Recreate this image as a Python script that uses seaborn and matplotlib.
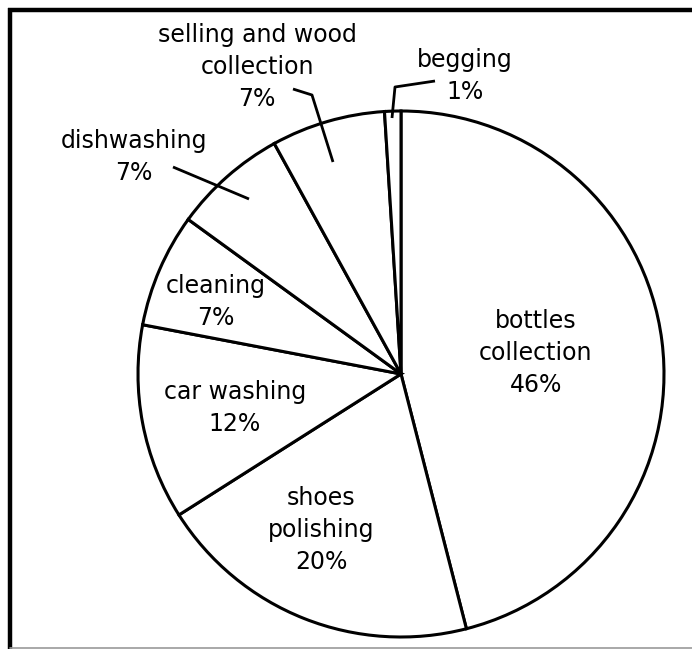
import numpy as np
import matplotlib
matplotlib.use("Agg")
import matplotlib.pyplot as plt
import seaborn as sns
from matplotlib.lines import Line2D

sns.set_theme(style="white")
plt.rcParams['font.family'] = ['DejaVu Sans']

# ---- data ----
activities = ['bottles\ncollection', 'shoes\npolishing', 'car washing', 'cleaning',
              'dishwashing', 'selling and wood\ncollection', 'begging']
shares = [46, 20, 12, 7, 7, 7, 1]

# ---- layout (pixel positions of the label blocks in the 692x649 picture) ----
W, H = 692, 649
CX, CY, R = 401, 374, 263
label_px = [(536, 353), (321, 530), (235, 408), (216, 302),
            (134, 157), (257, 67), (465, 76)]
leaders_px = {
    'dishwashing': [(173, 167), (249, 199)],
    'selling': [(293, 89), (312, 95), (333, 162)],
    'begging': [(435, 81), (395, 87), (392, 118)],
}


def to_data(px, py):
    return (px - CX) / R, (CY - py) / R


fig = plt.figure(figsize=(W / 100, H / 100), dpi=100)
ax = fig.add_axes([0, 0, 1, 1])

ax.pie(shares, colors=['white'] * len(shares), startangle=90, counterclock=False,
       radius=1, wedgeprops=dict(edgecolor='black', linewidth=2.2))

ax.set_xlim(to_data(0, 0)[0], to_data(W, 0)[0])
ax.set_ylim(to_data(0, H)[1], to_data(0, 0)[1])
ax.set_aspect('auto')
ax.axis('off')

for name, val, (px, py) in zip(activities, shares, label_px):
    x, y = to_data(px, py)
    ax.text(x, y, f"{name}\n{val}%", ha='center', va='center', fontsize=17,
            linespacing=1.4, color='black')

for pts in leaders_px.values():
    xs, ys = zip(*[to_data(px, py) for px, py in pts])
    ax.plot(xs, ys, color='black', lw=2.0, solid_capstyle='butt')

# frame (cropped on the right and bottom)
def fig_line(xs, ys, **kw):
    fig.add_artist(Line2D([x / W for x in xs], [1 - y / H for y in ys],
                          transform=fig.transFigure, **kw))

fig_line([7.5, W], [9.5, 9.5], color='black', lw=3.2, solid_capstyle='butt')
fig_line([9.5, 9.5], [7.5, H], color='black', lw=3.2, solid_capstyle='butt')
fig_line([9.5, W], [648, 648], color='#999999', lw=1.2)

fig.savefig('out.png', dpi=100, facecolor='white')
